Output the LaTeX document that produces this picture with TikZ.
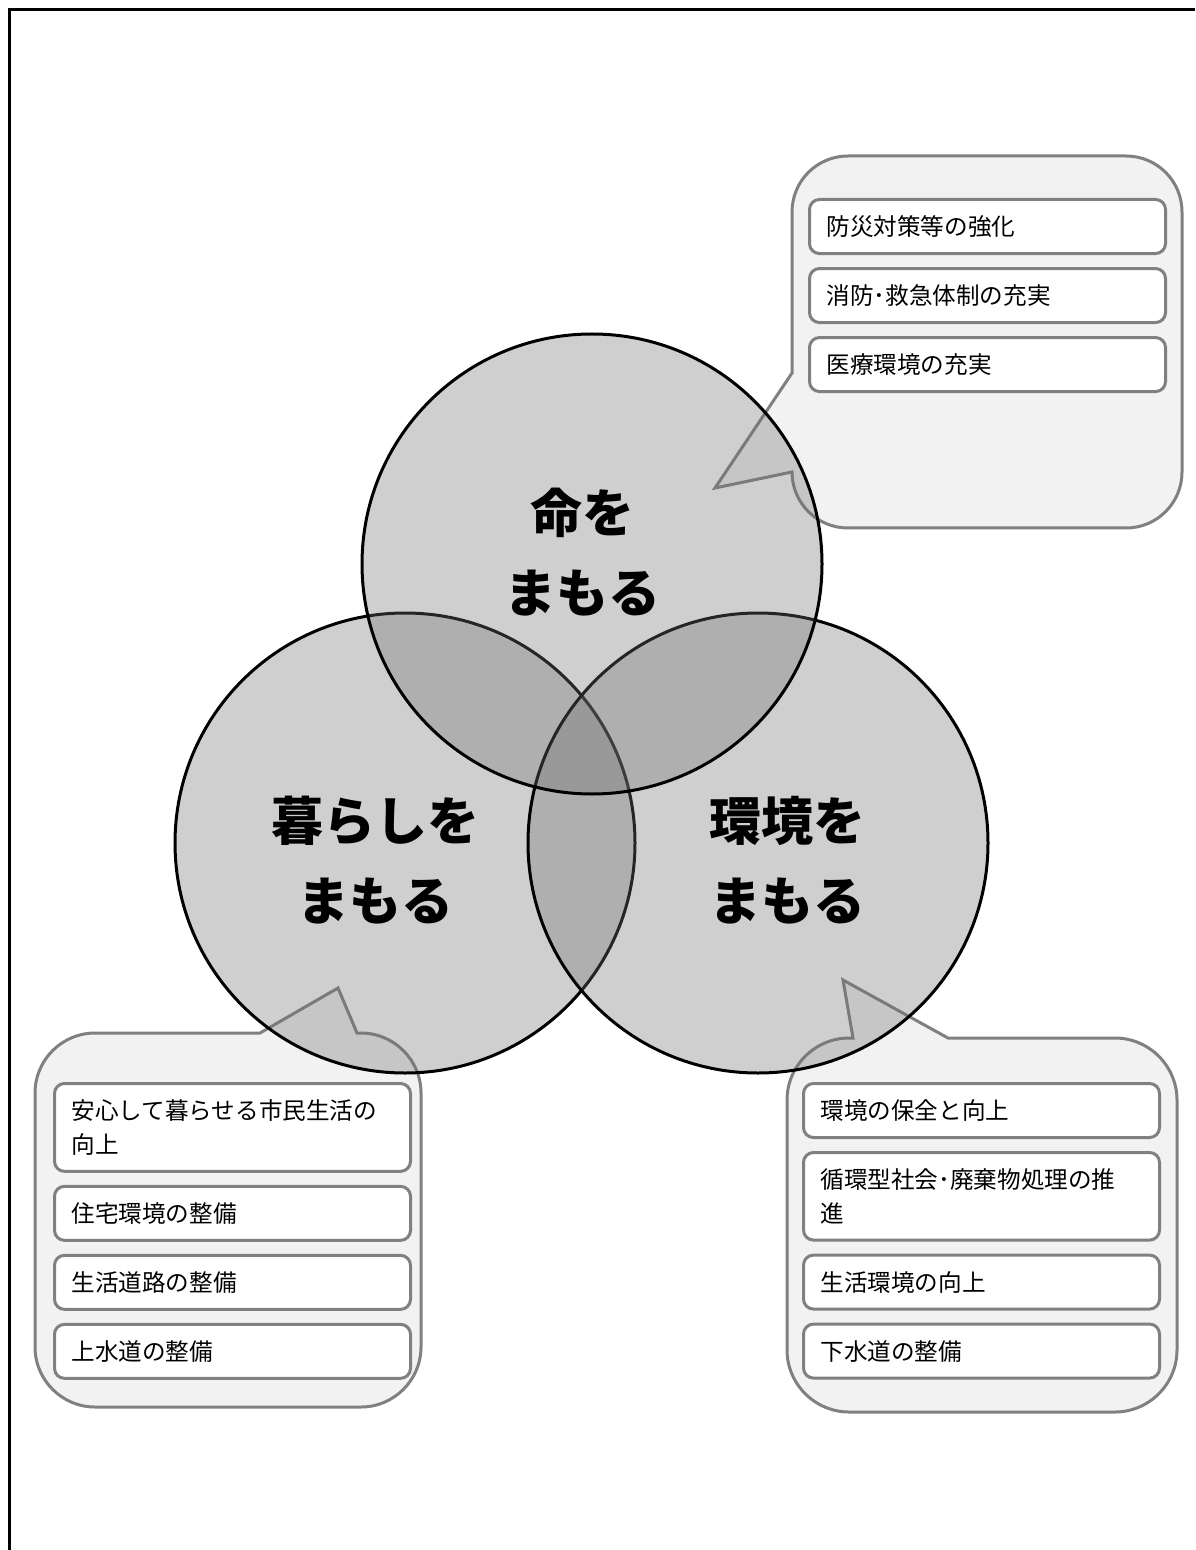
\documentclass[tikz,border=0pt]{standalone}
\usepackage{fontspec}
\usepackage{tikz}
\usetikzlibrary{positioning}
\newfontfamily\jp{Noto Sans CJK JP}
\definecolor{boxgray}{RGB}{128,128,128}
\definecolor{calloutfill}{RGB}{242,242,242}
\definecolor{circlefill}{RGB}{111,111,111}

\begin{document}
\begin{tikzpicture}[x=0.5pt, y=-0.5pt,
                    main circle/.style={circle,draw=black,line width=1.5pt,fill=circlefill,
                                        fill opacity=0.333,text opacity=1,minimum size=230pt,inner sep=0pt},
                    main label/.style={align=center,font=\jp\bfseries\fontsize{26pt}{40pt}\selectfont},
                    callout box/.style={draw=boxgray,fill=calloutfill,line width=1.5pt},
                    item node/.style={draw=boxgray,fill=white,line width=1.5pt,rounded corners=5pt,
                                      text width=161pt,align=left,inner xsep=8.5pt,inner ysep=8pt,
                                      minimum height=27pt,font=\jp\fontsize{11.8pt}{17pt}\selectfont}]

  \useasboundingbox (0,0) rectangle (1195,1550);
  \draw[line width=1.5pt] (9.5,1550) -- (9.5,10) -- (1195,10);

  % callouts
  \draw[callout box] (792,212) .. controls (792,181) and (817,156) .. (848,156) -- (1126,156)
    .. controls (1157,156) and (1182,181) .. (1182,212) -- (1182,472)
    .. controls (1182,503) and (1157,528) .. (1126,528) -- (848,528)
    .. controls (817,528) and (792,503) .. (792,472) -- (715,488) -- (792,373) -- cycle;
  \draw[callout box] (357,1033) -- (361,1033) .. controls (394,1033) and (421,1060) .. (421,1093)
    -- (421,1347) .. controls (421,1380) and (394,1407) .. (361,1407) -- (95,1407)
    .. controls (62,1407) and (35,1380) .. (35,1347) -- (35,1093)
    .. controls (35,1060) and (62,1033) .. (95,1033) -- (260,1033) -- (338,988) -- cycle;
  \draw[callout box] (948,1038) -- (1115,1038) .. controls (1149,1038) and (1177,1066) .. (1177,1100)
    -- (1177,1350) .. controls (1177,1384) and (1149,1412) .. (1115,1412) -- (849,1412)
    .. controls (815,1412) and (787,1384) .. (787,1350) -- (787,1100)
    .. controls (787,1066) and (815,1038) .. (849,1038) -- (853,1038) -- (843,980) -- cycle;

  \node[item node,anchor=north west] (t1) at (808,198) {防災対策等の強化};
  \node[item node] (t2) [below=6pt of t1] {消防･救急体制の充実};
  \node[item node] (t3) [below=6pt of t2] {医療環境の充実};

  \node[item node,anchor=north west] (l1) at (53,1082) {安心して暮らせる市民生活の\\向上};
  \node[item node] (l2) [below=6pt of l1] {住宅環境の整備};
  \node[item node] (l3) [below=6pt of l2] {生活道路の整備};
  \node[item node] (l4) [below=6pt of l3] {上水道の整備};

  \node[item node,anchor=north west] (r1) at (802,1082) {環境の保全と向上};
  \node[item node] (r2) [below=6pt of r1] {循環型社会･廃棄物処理の推\\進};
  \node[item node] (r3) [below=6pt of r2] {生活環境の向上};
  \node[item node] (r4) [below=6pt of r3] {下水道の整備};

  % circles
  \node[main circle] (kurashi) at (405,843) {};
  \node[main circle] (kankyo) at (758,843) {};
  \node[main circle] (inochi) at (592,564) {};

  \node[main label] (inochi label) at (582,552) {命を\\まもる};
  \node[main label] (kurashi label) at (375,860) {暮らしを\\まもる};
  \node[main label] (kankyo label) at (787,860) {環境を\\まもる};
\end{tikzpicture}
\end{document}
